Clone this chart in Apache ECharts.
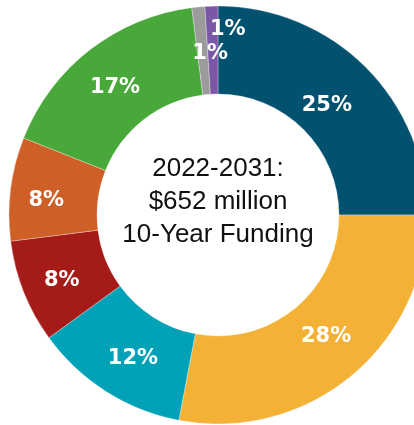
<!DOCTYPE html>
<html>
<head>
<meta charset="utf-8">
<script src="https://cdn.jsdelivr.net/npm/echarts@6/dist/echarts.min.js"></script>
<style>
  html, body { margin: 0; padding: 0; background: #ffffff; }
  #chart { width: 414px; height: 425px; }
</style>
</head>
<body>
<div id="chart"></div>
<script>
// Funding shares by category, clockwise from 12 o'clock
const categories = ['A', 'B', 'C', 'D', 'E', 'F', 'G', 'H'];
const shares = [25, 28, 12, 8, 8, 17, 1, 1];
const colors = ['#02516e', '#f3b235', '#01a2b7', '#a51b17', '#cd5f27', '#48a839', '#9b9b9b', '#7b57a8'];
const centerLines = ['2022-2031:', '$652 million', '10-Year Funding'];

// Small label nudges; the two narrow slices get pulled apart so they don't collide
const labelNudge = {
  A: [-10, 9], B: [1, -8], C: [5, 2], D: [0, 4],
  E: [-5, 7], F: [0, 5], G: [8, 6], H: [15, -18]
};

const chart = echarts.init(document.getElementById('chart'), null, { renderer: 'canvas' });

chart.setOption({
  animation: false,
  series: [{
    type: 'pie',
    center: [218, 215],
    radius: [121, 209],
    startAngle: 90,
    clockwise: true,
    avoidLabelOverlap: false,
    itemStyle: { borderColor: 'rgba(255,255,255,0.6)', borderWidth: 0.5 },
    label: {
      show: true,
      position: 'inside',
      formatter: '{c}%',
      color: '#ffffff',
      fontFamily: 'DejaVu Sans',
      fontWeight: 'bold',
      fontSize: 21
    },
    labelLine: { show: false },
    labelLayout: function (params) {
      const name = categories[params.dataIndex];
      const n = labelNudge[name];
      return n ? { dx: n[0], dy: n[1] } : {};
    },
    emphasis: { disabled: true },
    data: categories.map((c, i) => ({
      name: c,
      value: shares[i],
      itemStyle: { color: colors[i] }
    }))
  }],
  graphic: [{
    type: 'text',
    x: 218,
    y: 202,
    style: {
      text: centerLines.join('\n'),
      align: 'center',
      verticalAlign: 'middle',
      font: '26px "Liberation Sans", Arial, sans-serif',
      lineHeight: 33,
      fill: '#111111'
    }
  }]
});
</script>
</body>
</html>
